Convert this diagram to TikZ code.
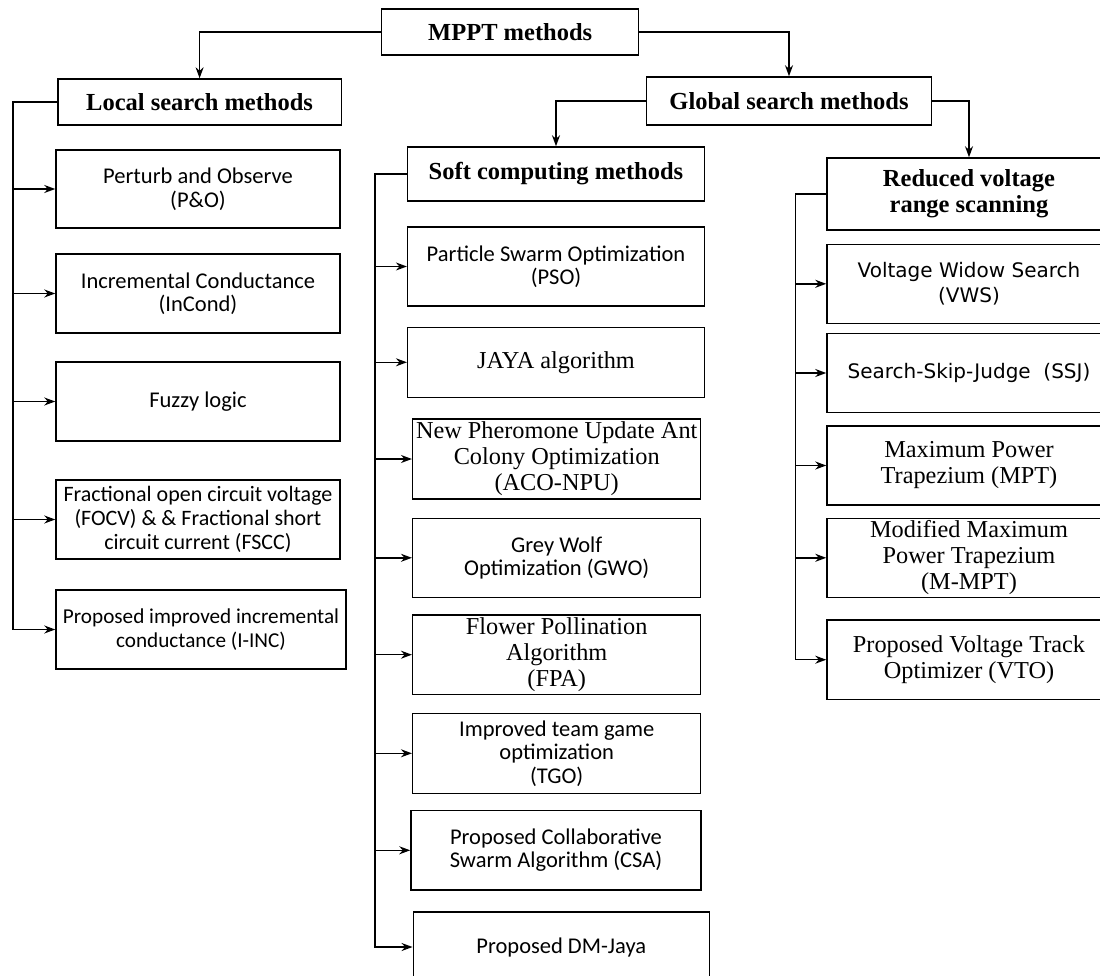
\documentclass[tikz,border=0pt]{standalone}
\usepackage{fontspec}
\usepackage{tikz}
\usetikzlibrary{arrows.meta}
\newfontfamily\carlito{Carlito}
\newfontfamily\libserif{Liberation Serif}
\newfontfamily\dejasans{DejaVu Sans}

\tikzset{
  box/.style={draw, rectangle, line width=1.5pt, inner sep=0pt, align=center},
  headbox/.style={box, font={\libserif\bfseries\fontsize{24.5}{25.7}\selectfont}},
  sansbox/.style={box, font={\carlito\fontsize{22.5}{23.5}\selectfont}},
  serifbox/.style={box, font={\libserif\fontsize{24.3}{26}\selectfont}},
  widebox/.style={box, font={\dejasans\fontsize{20}{24.5}\selectfont}},
  link/.style={line width=1.5pt, -{Stealth[length=11pt,width=8pt]}},
}

\begin{document}
\begin{tikzpicture}[x=1pt,y=-1pt]
    \fill[white] (0,0) rectangle (1100,976);
    \useasboundingbox (0,0) rectangle (1100,976);

    % headings
    \node[headbox, minimum width=257, minimum height=46] (mppt) at (510.2,32) {MPPT methods};
    \node[headbox, minimum width=283.4, minimum height=46] (local) at (199.6,102) {Local search methods};
    \node[headbox, minimum width=285, minimum height=48] (global) at (789,101) {Global search methods};
    \node[headbox, minimum width=296.7, minimum height=54] (soft) at (556,174) {Soft computing methods};
    \node[headbox, minimum width=284, minimum height=72] (reduced) at (969,194) {Reduced voltage\\range scanning};

    % local search
    \node[sansbox, minimum width=284, minimum height=78] (po) at (198,189) {Perturb and Observe\\(P\&O)};
    \node[sansbox, minimum width=284, minimum height=79] (inc) at (198,293.5) {Incremental Conductance\\(InCond)};
    \node[sansbox, minimum width=284, minimum height=79] (fuzzy) at (198,401.5) {Fuzzy logic};
    \node[sansbox, minimum width=284, minimum height=79, font={\carlito\fontsize{22}{24}\selectfont}] (focv) at (198,519.5) {Fractional open circuit voltage\\(FOCV) \& \& Fractional short\\circuit current (FSCC)};
    \node[sansbox, minimum width=290, minimum height=79, font={\carlito\fontsize{21.2}{24}\selectfont}] (iinc) at (201,629.5) {Proposed improved incremental\\conductance (I-INC)};

    % soft computing
    \node[sansbox, minimum width=296.7, minimum height=79] (pso) at (556,266.5) {Particle Swarm Optimization\\(PSO)};
    \node[serifbox, minimum width=296.6, minimum height=70] (jaya) at (556,362.3) {JAYA algorithm};
    \node[serifbox, minimum width=288, minimum height=80] (aco) at (556.7,459) {New Pheromone Update Ant\\Colony Optimization\\(ACO-NPU)};
    \node[sansbox, minimum width=288, minimum height=79] (gwo) at (556.7,557.8) {Grey Wolf\\Optimization (GWO)};
    \node[serifbox, minimum width=288, minimum height=79.3] (fpa) at (556.7,654.7) {Flower Pollination\\Algorithm\\(FPA)};
    \node[sansbox, minimum width=288, minimum height=80] (tgo) at (556.7,753.3) {Improved team game\\optimization\\(TGO)};
    \node[sansbox, minimum width=290, minimum height=79.3] (csa) at (556,850.3) {Proposed Collaborative\\Swarm Algorithm (CSA)};
    \node[sansbox, minimum width=296, minimum height=70] (dmj) at (561.3,947) {Proposed DM-Jaya};

    % reduced voltage range scanning
    \node[widebox, minimum width=284, minimum height=79] (vws) at (969,283.8) {Voltage Widow Search\\(VWS)};
    \node[widebox, minimum width=284, minimum height=79.4] (ssj) at (969,373) {Search-Skip-Judge\ \ (SSJ)};
    \node[serifbox, minimum width=284, minimum height=79] (mpt) at (969,465.5) {Maximum Power\\Trapezium (MPT)};
    \node[serifbox, minimum width=284, minimum height=79] (mmpt) at (969,557.8) {Modified Maximum\\Power Trapezium\\(M-MPT)};
    \node[serifbox, minimum width=284, minimum height=79.3] (vto) at (969,659.7) {Proposed Voltage Track\\Optimizer (VTO)};

    \coordinate (ltrunk) at (13,0);
    \coordinate (mtrunk) at (375,0);
    \coordinate (rtrunk) at (795.5,0);

    \draw[link] (mppt.west) -| (local.north);
    \draw[link] (mppt.east) -| (global.north);
    \draw[link] (global.west) -| (soft.north);
    \draw[link] (global.east) -| (reduced.north);

    \draw[link] (local.west) -| (ltrunk |- iinc.west) -- (iinc.west);
    \draw[link] (ltrunk |- po.west) -- (po.west);
    \draw[link] (ltrunk |- inc.west) -- (inc.west);
    \draw[link] (ltrunk |- fuzzy.west) -- (fuzzy.west);
    \draw[link] (ltrunk |- focv.west) -- (focv.west);

    \draw[link] (soft.west) -| (mtrunk |- dmj.west) -- (dmj.west);
    \draw[link] (mtrunk |- pso.west) -- (pso.west);
    \draw[link] (mtrunk |- jaya.west) -- (jaya.west);
    \draw[link] (mtrunk |- aco.west) -- (aco.west);
    \draw[link] (mtrunk |- gwo.west) -- (gwo.west);
    \draw[link] (mtrunk |- fpa.west) -- (fpa.west);
    \draw[link] (mtrunk |- tgo.west) -- (tgo.west);
    \draw[link] (mtrunk |- csa.west) -- (csa.west);

    \draw[link] (reduced.west) -| (rtrunk |- vto.west) -- (vto.west);
    \draw[link] (rtrunk |- vws.west) -- (vws.west);
    \draw[link] (rtrunk |- ssj.west) -- (ssj.west);
    \draw[link] (rtrunk |- mpt.west) -- (mpt.west);
    \draw[link] (rtrunk |- mmpt.west) -- (mmpt.west);
\end{tikzpicture}
\end{document}
